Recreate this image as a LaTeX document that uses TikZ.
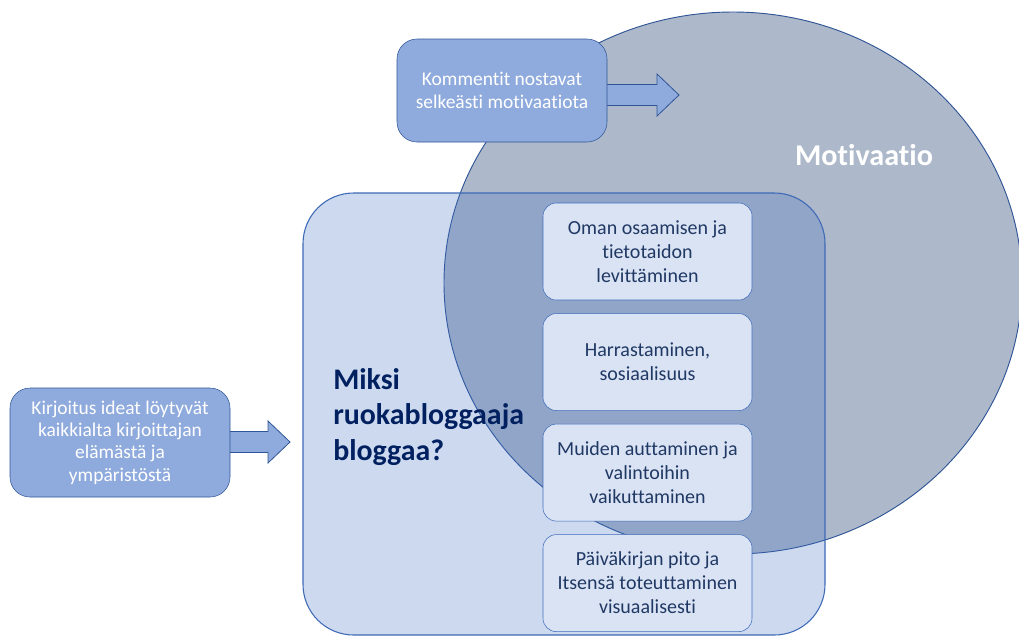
\documentclass[tikz,border=0pt]{standalone}
\usepackage{fontspec}
\setmainfont{Carlito}[Ligatures=NoCommon]
\usetikzlibrary{positioning,calc}

\definecolor{soikio}{HTML}{ADB9CA}
\definecolor{reuna}{HTML}{2F5597}
\definecolor{keski}{HTML}{4472C4}
\definecolor{vaalea}{HTML}{DAE3F3}
\definecolor{sininen}{HTML}{8FAADC}
\definecolor{tumma}{HTML}{1F3864}
\definecolor{otsikko}{HTML}{002060}

% block arrow from #1 to the tip #2
\newcommand{\nuoli}[2]{%
  \filldraw[nuoli] ($(#1)+(0,-10.5)$) -- ($(#2)+(-22,-10.5)$) -- ($(#2)+(-22,-21)$)
    -- (#2) -- ($(#2)+(-22,21)$) -- ($(#2)+(-22,10.5)$) -- ($(#1)+(0,10.5)$) -- cycle;}

\begin{document}
\begin{tikzpicture}[
            x=0.75pt, y=-0.75pt,
            inbox/.style={draw=keski!80!reuna, fill=vaalea, rounded corners=10pt,
            minimum width=156.75pt, minimum height=72.75pt, align=center,
            text=tumma, font=\fontsize{15}{18}\selectfont, inner sep=2pt},
            sinibox/.style={draw=reuna, fill=sininen, rounded corners=15pt,
            align=center, text=white, font=\fontsize{14.6}{16.8}\selectfont, inner sep=2pt},
            nuoli/.style={draw=reuna, fill=sininen, line width=0.6pt},
            isobox/.style={draw=keski!70!reuna, fill=keski, fill opacity=0.27,
            rounded corners=38pt, line width=0.8pt, minimum width=391.5pt, minimum height=331.5pt}
        ]
\useasboundingbox (0,0) rectangle (1019,637);
\begin{scope}
\clip (0,0) rectangle (1019,637);
% --- motivation ellipse ---
            \filldraw[fill=soikio, draw=reuna, line width=0.7pt] (733,283) ellipse [x radius=289, y radius=271];
            \node[text=white, font=\bfseries\fontsize{22.6}{26}\selectfont] (motiv) at (864,155) {Motivaatio};

% --- big question box ---
            \node[isobox] (iso) at (564,414) {};
            \node[anchor=west, align=left, text=otsikko, inner sep=0pt,
            font=\bfseries\fontsize{22.4}{26.3}\selectfont] (kysymys) at (333,417) {Miksi\\ruokabloggaaja\\bloggaa?};

% --- reasons ---
            \node[inbox] (oman) at (647.5,251.5) {Oman osaamisen ja\\tietotaidon\\levittäminen};
            \node[inbox, below=9.75pt of oman]  (harr)  {Harrastaminen,\\sosiaalisuus};
            \node[inbox, below=9.75pt of harr]  (muid)  {Muiden auttaminen ja\\valintoihin\\vaikuttaminen};
            \node[inbox, below=9.75pt of muid]  (paiv)  {Päiväkirjan pito ja\\Itsensä toteuttaminen\\visuaalisesti};

% --- block arrows, then the side boxes over their tails ---
            \coordinate (komalku)  at (600,95);
            \coordinate (komkarki) at (679,95);
            \coordinate (kiralku)  at (222,442);
            \coordinate (kirkarki) at (290,442);
            \nuoli{komalku}{komkarki}
            \nuoli{kiralku}{kirkarki}
            \node[sinibox, minimum width=157.5pt, minimum height=77.25pt] (kom) at (502,90.5) {Kommentit nostavat\\selkeästi motivaatiota};
            \node[sinibox, minimum width=165pt, minimum height=81.75pt] (kir) at (120,442.5) {Kirjoitus ideat löytyvät\\kaikkialta kirjoittajan\\elämästä ja\\ympäristöstä};
\end{scope}
\end{tikzpicture}
\end{document}
